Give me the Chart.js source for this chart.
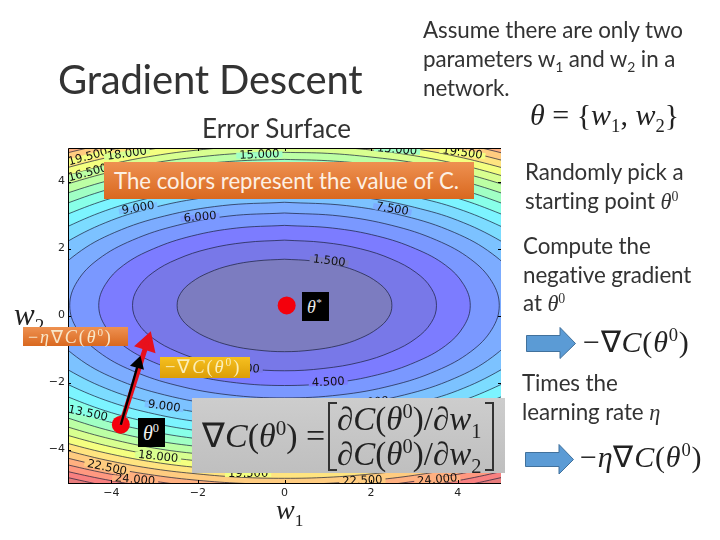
<!DOCTYPE html>
<html><head><meta charset="utf-8">
<script src="https://cdn.jsdelivr.net/npm/chart.js@4"></script>
<style>
html,body{margin:0;padding:0;background:#fff;width:720px;height:540px;overflow:hidden}
#wrap{position:relative;width:720px;height:540px}
canvas{position:absolute;left:0;top:0}
.t{position:absolute;white-space:nowrap;font-family:Lato,sans-serif;color:#333;line-height:1}
.b{font-size:22.4px;letter-spacing:-.1px}
.m{font-family:"Liberation Serif",serif;font-style:italic}
.u{font-style:normal}
.box{position:absolute;box-sizing:border-box}
sup,sub{font-size:.62em;line-height:0}
</style></head><body><div id="wrap"><canvas id="c" width="720" height="540"></canvas>

<div class="t" style="left:58px;top:59px;font-size:40px;letter-spacing:-.2px">Gradient Descent</div>
<div class="t" style="left:202px;top:115px;font-size:26px">Error Surface</div>
<div class="t b" style="left:423px;top:19px">Assume there are only two</div>
<div class="t b" style="left:423px;top:48px">parameters w<sub>1</sub> and w<sub>2</sub> in a</div>
<div class="t b" style="left:423px;top:77px">network.</div>
<div class="t m" style="left:530px;top:100px;font-size:30px;color:#222">θ <span class="u">= {</span>w<sub class="u">1</sub><span class="u">, </span>w<sub class="u">2</sub><span class="u">}</span></div>

<div class="box" style="left:104px;top:162px;width:370px;height:37px;background:linear-gradient(#ee9151,#d9681f)"></div>
<div class="t" style="left:114px;top:170px;font-size:22.2px;color:#fdf0e4">The colors represent the value of C.</div>

<div class="box" style="left:302px;top:292px;width:27px;height:29px;background:#000"></div>
<div class="t m" style="left:307px;top:298px;font-size:18px;color:#e8e8e8">θ<sup>*</sup></div>
<div class="box" style="left:138px;top:418px;width:27px;height:29px;background:#000"></div>
<div class="t m" style="left:143px;top:423px;font-size:20px;color:#f0f0f0">θ<sup class="u">0</sup></div>

<div class="t m" style="left:14px;top:299px;font-size:31px;color:#222">w<sub class="u">2</sub></div>
<div class="t m" style="left:276px;top:496px;font-size:28px;color:#222">w<sub class="u">1</sub></div>

<div class="box" style="left:23px;top:327px;width:105px;height:19px;background:linear-gradient(#ee9151,#d9681f)"></div>
<div class="t m" style="left:28px;top:328px;font-size:18px;color:#f8e6c8;letter-spacing:1.9px"><span class="u">−</span>η<span class="u">∇</span>C<span class="u">(</span>θ<sup class="u">0</sup><span class="u">)</span></div>
<div class="box" style="left:160px;top:357px;width:90px;height:21px;background:linear-gradient(#f6c020,#dc9e06)"></div>
<div class="t m" style="left:165px;top:358px;font-size:18.5px;color:#fbeeb8;letter-spacing:1.9px"><span class="u">−</span><span class="u">∇</span>C<span class="u">(</span>θ<sup class="u">0</sup><span class="u">)</span></div>

<div class="box" style="left:192px;top:398px;width:313px;height:75px;background:linear-gradient(#cdcdcd,#bfbfbf)"></div>
<div class="t m" style="left:202px;top:419px;font-size:34px;color:#222"><span class="u">∇</span>C<span class="u">(</span>θ<sup class="u">0</sup><span class="u">) =</span></div>
<div class="box" style="left:328px;top:402px;width:9px;height:69px;border:2px solid #333;border-right:none"></div>
<div class="box" style="left:485px;top:402px;width:9px;height:69px;border:2px solid #333;border-left:none"></div>
<div class="t m" style="left:337px;top:403px;font-size:33px;color:#222">∂C<span class="u">(</span>θ<sup class="u">0</sup><span class="u">)/</span>∂w<sub class="u">1</sub></div>
<div class="t m" style="left:337px;top:438px;font-size:33px;color:#222">∂C<span class="u">(</span>θ<sup class="u">0</sup><span class="u">)/</span>∂w<sub class="u">2</sub></div>

<div class="t b" style="left:525px;top:161px">Randomly pick a</div>
<div class="t b" style="left:525px;top:190px">starting point <span class="m">θ<sup class="u">0</sup></span></div>
<div class="t b" style="left:523px;top:235px">Compute the</div>
<div class="t b" style="left:523px;top:264px">negative gradient</div>
<div class="t b" style="left:523px;top:292px">at <span class="m">θ<sup class="u">0</sup></span></div>
<div class="t b" style="left:522px;top:372px">Times the</div>
<div class="t b" style="left:522px;top:401px">learning rate <span class="m">η</span></div>
<svg style="position:absolute;left:0;top:0" width="720" height="540">
<polygon points="526.5,335.5 560,335.5 560,327.5 575.5,343.5 560,358.5 560,351.5 526.5,351.5" fill="#5b9bd5" stroke="#41719c" stroke-width="1"/>
<polygon points="525.5,452.5 559,452.5 559,444.5 573.5,459.5 559,474 559,466.5 525.5,466.5" fill="#5b9bd5" stroke="#41719c" stroke-width="1"/>
</svg>
<div class="t m" style="left:583px;top:327px;font-size:30px;color:#222;letter-spacing:.8px"><span class="u">−</span><span class="u">∇</span>C<span class="u">(</span>θ<sup class="u">0</sup><span class="u">)</span></div>
<div class="t m" style="left:580px;top:442px;font-size:30px;color:#222;letter-spacing:.8px"><span class="u">−</span>η<span class="u">∇</span>C<span class="u">(</span>θ<sup class="u">0</sup><span class="u">)</span></div>
</div>
<script>
// Tick labels
const w1Ticks = [-4, -2, 0, 2, 4];
const w2Ticks = [-4, -2, 0, 2, 4];
// Contour levels of C and the filled colour inside each one
const contourLevels = [1.5,3,4.5,6,7.5,9,10.5,12,13.5,15,16.5,18,19.5,21,22.5,24,25.5,27];
const bandColours = ['#7c7cc0','#7878e8','#7c7cff','#7a98ff','#7cacff','#7cc2ff','#7cdcff','#7cf4ff','#88ffe8','#a0ffc4','#bcffa4','#d8ff90','#f4ff80','#ffe480','#ffcc80','#ffb080','#ff9880','#f88080'];
const outerColour = '#e87c7c';
// Centre of the valley
const minimumW2 = 0.3;
// Quarter-arc of each contour: reach from the centre along w1 and w2
const reachW1 = [
 [2.48,2.40,2.15,1.75,1.24,.64,0],
 [3.51,3.39,3.04,2.48,1.76,.91,0],
 [4.29,4.14,3.72,3.03,2.15,1.11,0],
 [4.96,4.79,4.30,3.51,2.48,1.28,0],
 [5.54,5.35,4.80,3.92,2.77,1.43,0],
 [5.5,5,4,3,2,1,0],[5.5,5,4,3,2,1,0],[5.5,5,4,3,2,1,0],[5.5,5,4,3,2,1,0],[5.5,5,4,3,2,1,0],
 [5.5,5,4,3,2,1,0],[5.5,5,4,3,2,1,0],[5.5,5,4,3,2,1,0],[5.5,5,4,3,2,1,0],[5.5,5,4,3,2,1,0],
 [5.5,5,4,3,2,1,0],[5.5,5,4,3,2,1,0],[5.5,5,4,3,2,1,0]
];
const reachW2 = [
 [0,.36,.69,.98,1.20,1.33,1.38],
 [0,.51,.98,1.38,1.69,1.88,1.95],
 [0,.62,1.20,1.69,2.07,2.31,2.39],
 [0,.71,1.38,1.95,2.39,2.67,2.76],
 [0,.80,1.54,2.18,2.67,2.98,3.08],
 [1.43,1.92,2.54,2.93,3.19,3.33,3.38],
 [1.99,2.36,2.89,3.24,3.47,3.60,3.65],
 [2.42,2.73,3.20,3.52,3.74,3.86,3.90],
 [2.78,3.06,3.49,3.78,3.98,4.10,4.13],
 [3.11,3.36,3.75,4.03,4.21,4.32,4.36],
 [3.40,3.63,3.99,4.26,4.43,4.54,4.57],
 [3.67,3.88,4.22,4.47,4.64,4.74,4.77],
 [3.92,4.12,4.44,4.68,4.84,4.94,4.97],
 [4.15,4.34,4.65,4.88,5.03,5.13,5.16],
 [4.37,4.56,4.85,5.07,5.22,5.31,5.34],
 [4.59,4.76,5.04,5.25,5.40,5.48,5.51],
 [4.79,4.96,5.23,5.43,5.57,5.65,5.68],
 [4.98,5.14,5.41,5.60,5.74,5.82,5.85]
];
// Inline contour labels
const labelTexts = ['19.500','18.000','16.500','15.000','15.000','9.000','6.000','7.500','1.500','19.500','13.500','9.000','18.000','22.500','24.000','4.500','3.000','19.500','22.500','24.000','9.000'];
const labelW1 = [-4.54,-3.64,-4.54,-.58,2.6,-3.38,-1.95,2.49,1.03,4.11,-4.54,-2.78,-2.92,-4.1,-3.45,1.01,-.95,-.84,1.8,3.53,2.03];
const labelW2 = [4.73,4.82,4.25,4.79,4.94,3.20,2.93,3.17,1.62,4.85,-2.93,-2.72,-4.22,-4.55,-4.91,-2.0,-1.59,-4.73,-4.94,-4.91,-2.6];
const labelTilt = [-15,-8,-15,-2,5,-10,-5,10,7,8,12,8,6,12,5,-3,3,0,-2,-5,-5];
// Optimum, starting point and the two steps
const optimumW1 = [0.05], optimumW2 = [0.3];
const startW1 = [-3.78], startW2 = [-3.26];
const gradientW1 = [-3.78,-3.38], gradientW2 = [-3.26,-1.44];
const stepW1 = [-3.78,-3.18], stepW2 = [-3.26,-.84];

function loop(i){
  const dx=reachW1[i], dy=reachW2[i], c=minimumW2, p=[], n=dx.length;
  for(let k=n-1;k>=0;k--) p.push({x:dx[k],y:c+dy[k]});
  for(let k=dy[0]===0?1:0;k<n;k++) p.push({x:dx[k],y:c-dy[k]});
  for(let k=n-2;k>=0;k--) p.push({x:-dx[k],y:c-dy[k]});
  for(let k=dy[0]===0?1:0;k<n;k++) p.push({x:-dx[k],y:c+dy[k]});
  return p;
}
const xy=(a,b)=>a.map((v,i)=>({x:v,y:b[i]}));
const contourSets = contourLevels.map((L,i)=>({
  label:'C = '+L, type:'scatter', showLine:true, data:loop(i), fill:'shape',
  backgroundColor:bandColours[i], borderColor:'#1a1f3a', borderWidth:.7,
  pointRadius:0, tension:.38, order:10+i
}));
const markerSets = [
 {label:'gradient',type:'scatter',showLine:true,data:xy(gradientW1,gradientW2),borderColor:'#000',backgroundColor:'#000',borderWidth:2.4,pointStyle:'triangle',pointRadius:[0,6],pointRotation:[0,16],order:0},
 {label:'step',type:'scatter',showLine:true,data:xy(stepW1,stepW2),borderColor:'#e8101c',backgroundColor:'#e8101c',borderWidth:5,pointStyle:'triangle',pointRadius:[0,8],pointRotation:[0,18],order:1},
 {label:'start',type:'scatter',data:xy(startW1,startW2),backgroundColor:'#f4000c',borderWidth:0,pointRadius:9,order:2},
 {label:'optimum',type:'scatter',data:xy(optimumW1,optimumW2),backgroundColor:'#f4000c',borderWidth:0,pointRadius:9,order:2}
];
const surfacePlugin = {
  id:'surface',
  beforeDraw(ch){
    const a=ch.chartArea,g=ch.ctx;
    g.save();g.fillStyle=outerColour;g.fillRect(a.left,a.top,a.width,a.height);g.restore();
  },
  afterDatasetsDraw(ch){
    const a=ch.chartArea,g=ch.ctx,sx=ch.scales.x,sy=ch.scales.y;
    g.save();
    g.beginPath();g.rect(a.left,a.top,a.width,a.height);g.clip();
    g.font='11.5px "DejaVu Sans"';g.textAlign='center';g.textBaseline='middle';
    labelTexts.forEach((t,i)=>{
      const lv=contourLevels.indexOf(parseFloat(t));
      g.save();
      g.translate(sx.getPixelForValue(labelW1[i]),sy.getPixelForValue(labelW2[i]));
      g.rotate(labelTilt[i]*Math.PI/180);
      const w=g.measureText(t).width+6;
      g.fillStyle=bandColours[lv];
      g.fillRect(-w/2,-3,w,6);
      g.fillStyle='#111';
      g.fillText(t,0,0);
      g.restore();
    });
    g.restore();
    // matplotlib style frame and inward ticks
    g.save();g.strokeStyle='#000';g.lineWidth=1;g.beginPath();
    g.moveTo(a.left+.5,a.bottom);g.lineTo(a.left+.5,a.top+.5);g.lineTo(a.right,a.top+.5);
    g.moveTo(a.left,a.bottom+.5);g.lineTo(a.right,a.bottom+.5);
    w1Ticks.forEach(v=>{const x=Math.round(sx.getPixelForValue(v))+.5;g.moveTo(x,a.bottom);g.lineTo(x,a.bottom-3);g.moveTo(x,a.top);g.lineTo(x,a.top+3);});
    w2Ticks.forEach(v=>{const y=Math.round(sy.getPixelForValue(v))+.5;g.moveTo(a.left,y);g.lineTo(a.left+3,y);g.moveTo(a.right,y);g.lineTo(a.right-3,y);});
    g.stroke();g.restore();
  }
};
const tickFont={family:'"DejaVu Sans"',size:11};
new Chart(document.getElementById('c'),{
  type:'scatter',
  data:{datasets:[...markerSets,...contourSets]},
  plugins:[surfacePlugin],
  options:{
    responsive:false,animation:false,
    layout:{padding:{left:0,top:148,right:219,bottom:0}},
    plugins:{legend:{display:false},tooltip:{enabled:false}},
    scales:{
      x:{type:'linear',min:-5,max:5,afterBuildTicks:s=>{s.ticks=w1Ticks.map(v=>({value:v}));},
         afterFit:s=>{s.height=57;},
         grid:{display:false,drawTicks:false},border:{display:false},
         ticks:{font:tickFont,color:'#222',padding:4,maxRotation:0,callback:v=>String(v).replace('-','−')}},
      y:{type:'linear',min:-5,max:5,afterBuildTicks:s=>{s.ticks=w2Ticks.map(v=>({value:v}));},
         afterFit:s=>{s.width=68;},
         grid:{display:false,drawTicks:false},border:{display:false},
         ticks:{font:tickFont,color:'#222',padding:3,callback:v=>String(v).replace('-','−')}}
    }
  }
});
</script></body></html>
